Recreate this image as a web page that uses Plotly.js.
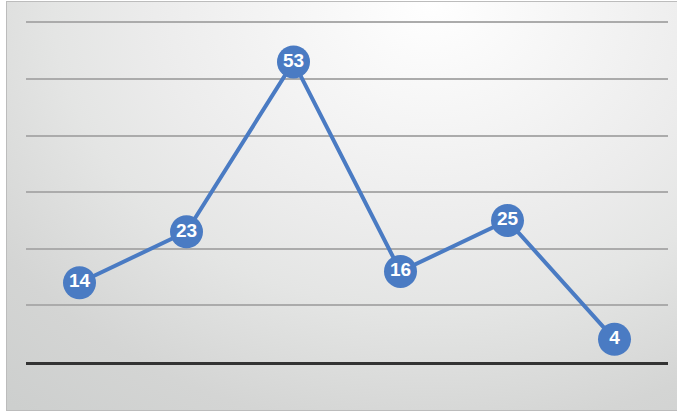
<!DOCTYPE html>
<html>
<head>
<meta charset="utf-8">
<script src="https://cdn.plot.ly/plotly-3.0.1.min.js"></script>
<style>
  html, body { margin: 0; padding: 0; width: 677px; height: 411px; overflow: hidden; background: #ffffff; }
  #frame {
    position: absolute; left: 6px; top: 1px; width: 670px; height: 408px;
    border: 1px solid #bcbcbc; border-right: none;
    background: radial-gradient(ellipse 600px 490px at 424px 0px, #ffffff 0%, #f6f6f6 22%, #ececec 46%, #e4e5e4 63%, #d4d5d4 88%, #cdcfce 108%);
  }
  #chart { position: absolute; left: 0; top: 0; width: 677px; height: 411px; }
</style>
</head>
<body>
<div id="frame"></div>
<div id="chart"></div>
<script>
const categories = ["A", "B", "C", "D", "E", "F"];
const values = [14, 23, 53, 16, 25, 4];
const yTicks = [0, 10, 20, 30, 40, 50, 60];

const trace = {
  x: categories,
  y: values,
  type: "scatter",
  mode: "lines+markers+text",
  text: values.map(String),
  textposition: "middle center",
  textfont: { family: "Liberation Sans, Arial, sans-serif", size: 19, color: "#ffffff", weight: "bold" },
  line: { color: "#4a7bc3", width: 4 },
  marker: { color: "#4a7bc3", size: 33, line: { width: 0 } },
  cliponaxis: false,
  hoverinfo: "skip"
};

const layout = {
  width: 677, height: 411,
  margin: { l: 26, r: 9, t: 20, b: 49 },
  paper_bgcolor: "rgba(0,0,0,0)",
  plot_bgcolor: "rgba(0,0,0,0)",
  showlegend: false,
  xaxis: {
    type: "category",
    range: [-0.5, 5.5],
    showticklabels: false,
    ticks: "",
    showgrid: false,
    zeroline: false,
    showline: true,
    linecolor: "#333333",
    linewidth: 3,
    fixedrange: true
  },
  yaxis: {
    range: [0, 60.4],
    tickvals: yTicks,
    showticklabels: false,
    ticks: "",
    showgrid: true,
    gridcolor: "#ababab",
    gridwidth: 2,
    zeroline: false,
    showline: false,
    fixedrange: true
  }
};

Plotly.newPlot("chart", [trace], layout, { displayModeBar: false, staticPlot: true });
</script>
</body>
</html>
